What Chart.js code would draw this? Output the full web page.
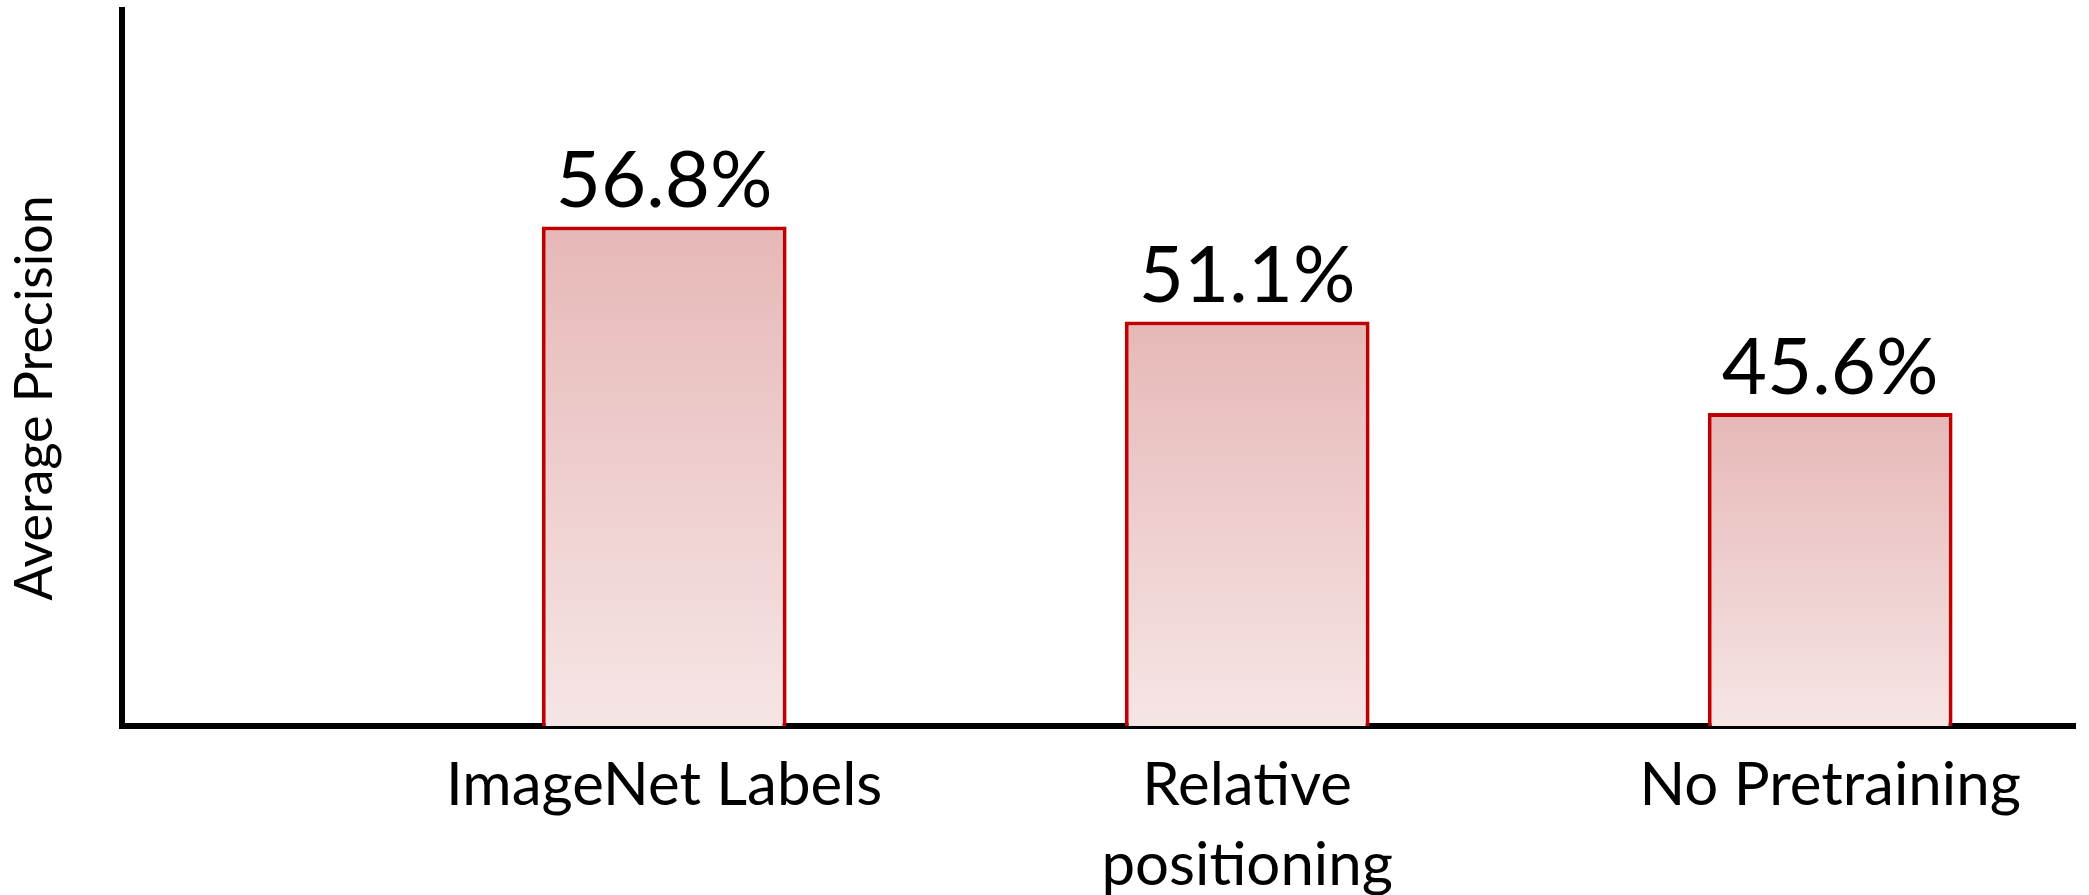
<!DOCTYPE html>
<html>
<head>
<meta charset="utf-8">
<script src="https://cdn.jsdelivr.net/npm/chart.js@4"></script>
<style>
  html, body { margin: 0; padding: 0; background: #fff; }
  #wrap { width: 2089px; height: 895px; }
</style>
</head>
<body>
<div id="wrap"><canvas id="apChart" width="2089" height="895"></canvas></div>
<script>
// データ
var categories = ['ImageNet Labels', 'Relative positioning', 'No Pretraining'];
var tickLabels = ['ImageNet Labels', ['Relative', 'positioning'], 'No Pretraining'];
var apValues = [56.8, 51.1, 45.6];
var yTitle = 'Average Precision';

var FONT = 'Lato, "Open Sans", sans-serif';

// バーのグラデーション
function barGradient(context) {
    var chart = context.chart;
    if (!chart.chartArea || !context.parsed) return '#e8c0bf';
    var y = chart.scales.y;
    var top = y.getPixelForValue(context.parsed.y);
    var bottom = y.getPixelForValue(y.min);
    var g = chart.ctx.createLinearGradient(0, top, 0, bottom);
    g.addColorStop(0, '#e6b8b7');
    g.addColorStop(1, '#f6e5e5');
    return g;
}

// 値ラベルとY軸タイトル
var textLabels = {
    id: 'textLabels',
    afterDatasetsDraw: function (chart) {
        var ctx = chart.ctx;
        var meta = chart.getDatasetMeta(0);
        var area = chart.chartArea;
        ctx.save();
        ctx.font = '78px ' + FONT;
        ctx.fillStyle = '#000';
        ctx.textAlign = 'center';
        ctx.textBaseline = 'alphabetic';
        meta.data.forEach(function (bar, i) {
            ctx.fillText(apValues[i].toFixed(1) + '%', bar.x, bar.y - 19);
        });
        ctx.restore();

        ctx.save();
        ctx.font = '52px ' + FONT;
        ctx.fillStyle = '#000';
        ctx.textAlign = 'center';
        ctx.textBaseline = 'middle';
        ctx.translate(35, (area.top + area.bottom) / 2 + 30);
        ctx.rotate(-Math.PI / 2);
        ctx.fillText(yTitle, 0, 0);
        ctx.restore();
    }
};

var ctxAP = document.getElementById('apChart').getContext('2d');
var apChart = new Chart(ctxAP, {
    type: 'bar',
    data: {
        datasets: [{
            label: yTitle,
            data: categories.map(function (c, i) { return { x: i, y: apValues[i] }; }),
            backgroundColor: barGradient,
            borderColor: '#c00000',
            borderWidth: 4,
            borderSkipped: 'bottom',
            categoryPercentage: 1,
            barPercentage: 0.42
        }]
    },
    options: {
        responsive: false,
        animation: false,
        devicePixelRatio: 1,
        layout: { padding: { top: 10, right: 14, left: 0, bottom: 0 } },
        plugins: {
            legend: { display: false },
            tooltip: { enabled: false }
        },
        scales: {
            x: {
                type: 'linear',
                offset: false,
                min: -0.93,
                max: 2.42,
                grid: { display: false, drawTicks: false },
                border: { display: true, color: '#000', width: 6 },
                afterBuildTicks: function (scale) {
                    scale.ticks = categories.map(function (c, i) { return { value: i }; });
                },
                afterFit: function (scale) { scale.height = 169; },
                ticks: {
                    autoSkip: false,
                    maxRotation: 0,
                    padding: 20,
                    color: '#000',
                    font: { family: FONT, size: 60, lineHeight: 1.33 },
                    callback: function (v) { return tickLabels[v]; }
                }
            },
            y: {
                min: 26.8,
                max: 69.8,
                grid: { display: false, drawTicks: false },
                border: { display: true, color: '#000', width: 6 },
                ticks: { display: false },
                afterFit: function (scale) { scale.width = 122; }
            }
        }
    },
    plugins: [textLabels]
});
</script>
</body>
</html>
